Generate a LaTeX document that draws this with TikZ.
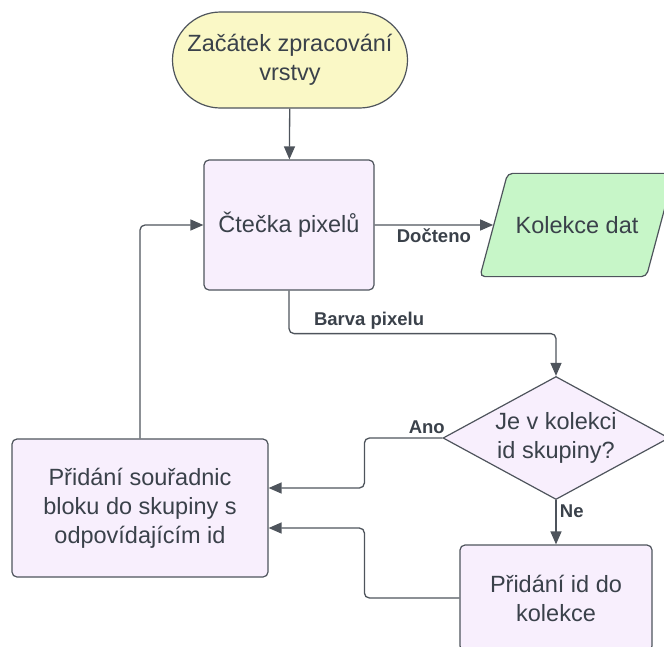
\documentclass[tikz,border=0pt]{standalone}
\usepackage{fontspec}
\setmainfont{Liberation Sans}
\usetikzlibrary{positioning, shapes.geometric, arrows.meta}
\definecolor{inkgray}{RGB}{58,65,74}
\definecolor{linegray}{RGB}{78,84,92}
\definecolor{startfill}{RGB}{250,248,198}
\definecolor{procfill}{RGB}{248,239,253}
\definecolor{datafill}{RGB}{199,246,200}

\begin{document}
\begin{tikzpicture}[
    x=1pt, y=-1pt,
    every node/.style={align=center, text=inkgray, font=\fontsize{23.5}{29}\selectfont},
    box/.style={rectangle, draw=linegray, line width=1.2pt, rounded corners=5pt, fill=procfill, inner sep=0pt},
    startbox/.style={box, fill=startfill, rounded corners=48pt, minimum width=235pt, minimum height=96pt},
    databox/.style={trapezium, trapezium left angle=75, trapezium right angle=105,
      draw=linegray, line width=1.2pt, rounded corners=5pt, fill=datafill, inner xsep=8pt, inner ysep=43pt},
    decision/.style={diamond, aspect=1.84, draw=linegray, line width=1.2pt, fill=procfill, inner sep=0pt,
      minimum width=226pt, minimum height=123pt},
    flow/.style={draw=linegray, line width=1.3pt, rounded corners=5pt, -{Triangle[length=13pt,width=11pt]}},
    lbl/.style={font=\bfseries\fontsize{18.5}{22}\selectfont}
  ]
  \useasboundingbox (0,0) rectangle (664,646);
  \clip (0,0) rectangle (664,646);

  \node[startbox] (start) at (290,60) {Začátek zpracování\\vrstvy};
  \node[box, minimum width=170pt, minimum height=130pt] (reader) at (289,225) {Čtečka pixelů};
  \node[databox] (data) at (577,225) {Kolekce dat};
  \node[decision] (check) at (556,438) {Je v kolekci\\id skupiny?};
  \node[box, minimum width=256pt, minimum height=138pt] (group) at (140,508)
    {Přidání souřadnic\\bloku do skupiny s\\odpovídajícím id};
  \node[box, minimum width=192pt, minimum height=106pt] (addid) at (556,598) {Přidání id do\\kolekce};

  \draw[flow] (start) -- (reader);
  \draw[flow] (reader) -- node[lbl, below] {Dočteno} (data);
  \draw[flow] (reader.south) -- ++(0,43) -| node[lbl, pos=0.15, above] {Barva pixelu} (check.north);
  \draw[flow] (check.west) -- node[lbl, pos=0.2, above] {Ano} ++(-78,0) |- ([yshift=20pt]group.east);
  \draw[flow] (check.south) -- node[lbl, pos=0.25, right] {Ne} (addid.north);
  \draw[flow] (addid.west) -- ++(-95,0) |- ([yshift=-20pt]group.east);
  \draw[flow] (group.north) |- (reader.west);
\end{tikzpicture}
\end{document}
